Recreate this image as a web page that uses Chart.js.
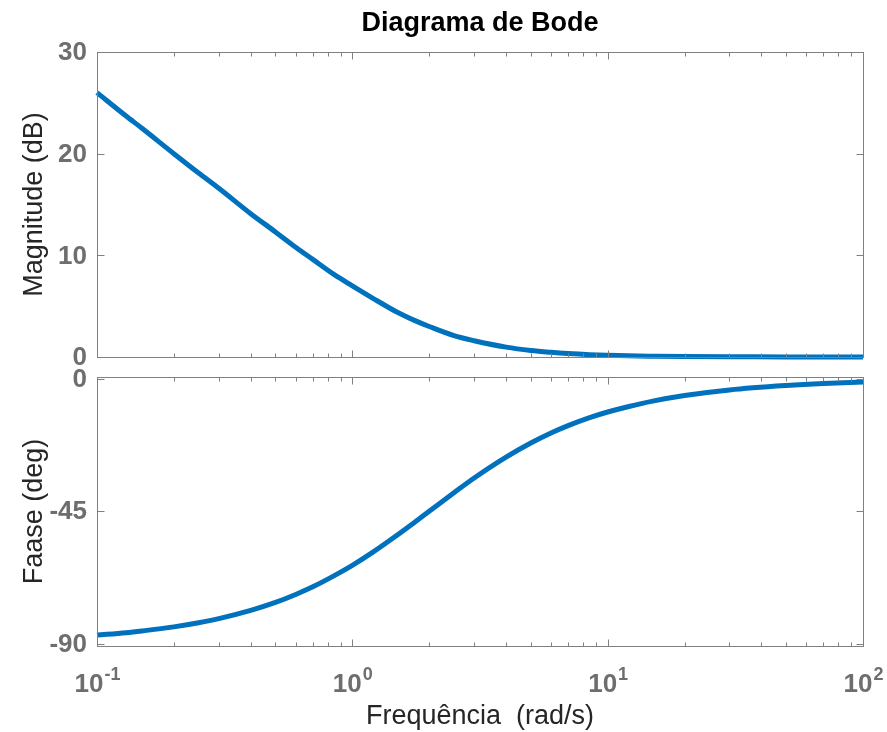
<!DOCTYPE html>
<html lang="pt">
<head>
<meta charset="UTF-8">
<title>Diagrama de Bode</title>
<script src="https://cdn.jsdelivr.net/npm/chart.js"></script>
<style>
  body { margin: 0; background: #fff; }
  #wrap { position: relative; width: 887px; height: 732px; }
  #wrap div { position: absolute; left: 0; width: 887px; }
</style>
</head>
<body>
<div id="wrap">
  <div style="top:0;height:370px"><canvas id="mag"></canvas></div>
  <div style="top:366px;height:366px"><canvas id="phase"></canvas></div>
</div>
<script>
// frequency points (rad/s) and the response read at each
const freq       = [0.1, 0.13, 0.15, 0.2, 0.25, 0.3, 0.4, 0.5, 0.6, 0.7, 0.85, 1, 1.2, 1.5, 1.75, 2, 2.5, 3, 4, 5, 6, 7, 8.5, 10, 12, 15, 20, 30, 50, 70, 100];
const magnitudeDb = [26.0, 23.7, 22.5, 20.0, 18.1, 16.6, 14.1, 12.3, 10.8, 9.6, 8.1, 7.0, 5.8, 4.4, 3.6, 3.0, 2.1, 1.6, 0.97, 0.64, 0.46, 0.34, 0.23, 0.17, 0.12, 0.08, 0.04, 0.02, 0.01, 0.004, 0.002];
const phaseDeg    = [-87.1, -86.3, -85.7, -84.3, -82.9, -81.5, -78.7, -76.0, -73.3, -70.7, -66.9, -63.4, -59.0, -53.1, -48.8, -45.0, -38.7, -33.7, -26.6, -21.8, -18.4, -15.9, -13.2, -11.3, -9.5, -7.6, -5.7, -3.8, -2.3, -1.6, -1.1];

const magTicks = [0, 10, 20, 30];
const phaseTicks = [-90, -45, 0];
const decadeExponents = [-1, 0, 1, 2];

const LINE = '#0072BD';
const AXIS = '#808080';
const TICKTEXT = '#6e6e6e';
const LABEL = '#262626';
const FONT = '"Liberation Sans", Arial, sans-serif';

function points(ys) {
  return freq.map((f, i) => ({ x: f, y: ys[i] }));
}

// box, inward ticks and text, MATLAB style
const bodeFrame = {
  id: 'bodeFrame',
  afterDraw(chart, args, opts) {
    const ctx = chart.ctx;
    const a = chart.chartArea;
    const xs = chart.scales.x, ys = chart.scales.y;
    const L = Math.round(a.left) + 0.5, R = Math.round(a.right) + 0.5;
    const T = Math.round(a.top) + 0.5, B = Math.round(a.bottom) + 0.5;
    ctx.save();
    ctx.strokeStyle = AXIS;
    ctx.lineWidth = 1;
    ctx.strokeRect(L, T, R - L, B - T);

    ctx.beginPath();
    // x ticks, majors at decades, minors 2..9
    for (let e = -1; e <= 2; e++) {
      for (let m = 1; m <= 9; m++) {
        const v = m * Math.pow(10, e);
        if (v > 100 + 1e-9) break;
        const px = Math.round(xs.getPixelForValue(v)) + 0.5;
        const len = m === 1 ? 7 : 4;
        ctx.moveTo(px, B); ctx.lineTo(px, B - len);
        ctx.moveTo(px, T); ctx.lineTo(px, T + len);
      }
    }
    // y ticks on both sides
    opts.yTicks.forEach(v => {
      const py = Math.round(ys.getPixelForValue(v)) + 0.5;
      ctx.moveTo(L, py); ctx.lineTo(L + 7, py);
      ctx.moveTo(R, py); ctx.lineTo(R - 7, py);
    });
    ctx.stroke();

    // y tick labels
    ctx.fillStyle = TICKTEXT;
    ctx.font = 'bold 26px ' + FONT;
    ctx.textAlign = 'right';
    ctx.textBaseline = 'middle';
    opts.yTicks.forEach(v => {
      ctx.fillText(String(v), a.left - 10, ys.getPixelForValue(v) + 1);
    });

    // y axis title
    ctx.fillStyle = LABEL;
    ctx.font = '27px ' + FONT;
    ctx.textAlign = 'center';
    ctx.textBaseline = 'middle';
    ctx.save();
    ctx.translate(35, (a.top + a.bottom) / 2);
    ctx.rotate(-Math.PI / 2);
    ctx.fillText(opts.yLabel, 0, 0);
    ctx.restore();

    if (opts.title) {
      ctx.fillStyle = '#000';
      ctx.font = 'bold 27px ' + FONT;
      ctx.fillText(opts.title, (a.left + a.right) / 2, 24);
    }

    if (opts.xAxis) {
      // decade labels 10^n
      ctx.fillStyle = TICKTEXT;
      ctx.textAlign = 'left';
      ctx.textBaseline = 'alphabetic';
      const base = a.bottom + 46;
      decadeExponents.forEach(e => {
        const px = xs.getPixelForValue(Math.pow(10, e));
        ctx.font = 'bold 26px ' + FONT;
        const w1 = ctx.measureText('10').width;
        ctx.font = 'bold 18px ' + FONT;
        const sup = String(e);
        const w2 = ctx.measureText(sup).width;
        const x0 = px - (w1 + w2) / 2;
        ctx.font = 'bold 26px ' + FONT;
        ctx.fillText('10', x0, base);
        ctx.font = 'bold 18px ' + FONT;
        ctx.fillText(sup, x0 + w1 + 1, base - 12);
      });
      ctx.fillStyle = LABEL;
      ctx.font = '27px ' + FONT;
      ctx.textAlign = 'center';
      ctx.textBaseline = 'middle';
      ctx.fillText(opts.xAxis, (a.left + a.right) / 2, a.bottom + 71);
    }
    ctx.restore();
  }
};

function makeChart(id, data, yMin, yMax, padding, frame) {
  return new Chart(document.getElementById(id), {
    type: 'line',
    data: {
      datasets: [{
        data: points(data),
        borderColor: LINE,
        borderWidth: 5,
        pointRadius: 0,
        fill: false,
        cubicInterpolationMode: 'monotone',
        clip: false
      }]
    },
    options: {
      responsive: true,
      maintainAspectRatio: false,
      animation: false,
      events: [],
      layout: { padding: padding },
      plugins: { legend: { display: false }, tooltip: { enabled: false }, bodeFrame: frame },
      scales: {
        x: { type: 'logarithmic', min: 0.1, max: 100, display: false },
        y: { type: 'linear', min: yMin, max: yMax, display: false }
      }
    },
    plugins: [bodeFrame]
  });
}

makeChart('mag', magnitudeDb, 0, 30,
  { left: 97, right: 24, top: 52, bottom: 13 },
  { yTicks: magTicks, yLabel: 'Magnitude (dB)', title: 'Diagrama de Bode' });

makeChart('phase', phaseDeg, -90.8, 0.6,
  { left: 97, right: 24, top: 11, bottom: 86 },
  { yTicks: phaseTicks, yLabel: 'Faase (deg)', xAxis: 'Frequência  (rad/s)' });
</script>
</body>
</html>
